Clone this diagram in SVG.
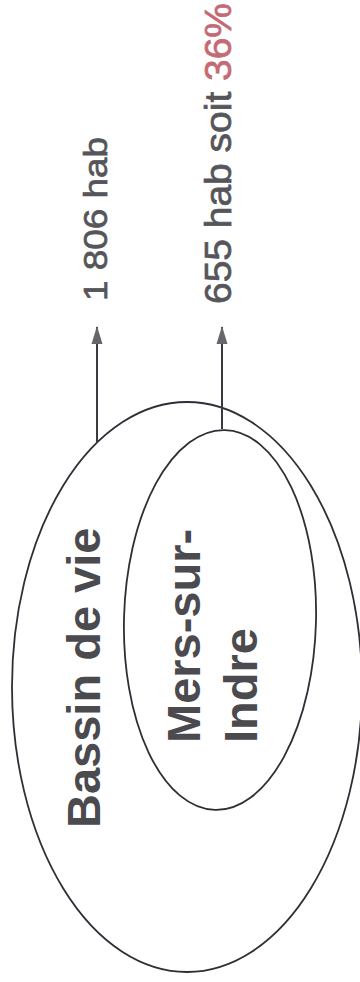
<svg xmlns="http://www.w3.org/2000/svg" width="360" height="982" viewBox="0 0 360 982">
<defs>
<style>
.ring{fill:none;stroke:#2e2e36;stroke-width:1.8}
.lbl{font-family:"Liberation Sans",Arial,sans-serif;fill:#55555a;stroke:#55555a;stroke-width:0.7}
.big{font-family:"Liberation Sans",Arial,sans-serif;font-weight:bold;fill:#4a4a4f}
.conn{stroke:#3a3a40;stroke-width:2;fill:none}
</style>
<marker id="ah" markerWidth="18" markerHeight="12" refX="17" refY="6" orient="auto" markerUnits="userSpaceOnUse" viewBox="0 0 18 12">
<path d="M0 0.5 L18 6 L0 11.5 Z" fill="#66666c"/>
</marker>
</defs>
<rect width="360" height="982" fill="#ffffff"/>
<g id="bassin">
<ellipse class="ring" cx="187" cy="687" rx="175" ry="285" stroke="#55555c"/>
<text class="big" x="100" y="828" font-size="47" transform="rotate(-90 100 828)">Bassin de vie</text>
</g>
<g id="mers">
<ellipse class="ring" cx="220" cy="620" rx="96" ry="190" transform="rotate(1.5 220 620)"/>
<text class="big" x="200" y="743" font-size="47" transform="rotate(-90 200 743)">Mers-sur-</text>
<text class="big" x="257" y="743" font-size="47" transform="rotate(-90 257 743)">Indre</text>
</g>
<g id="label-bassin">
<text class="lbl" x="107" y="301" font-size="34" textLength="164" lengthAdjust="spacingAndGlyphs" transform="rotate(-90 107 301)">1 806 hab</text>
</g>
<g id="label-mers">
<text class="lbl" x="231" y="304" font-size="37" textLength="301" lengthAdjust="spacingAndGlyphs" transform="rotate(-90 231 304)">655 hab soit <tspan fill="#c46a74" stroke="#c46a74">36%</tspan></text>
</g>
<g id="connectors">
<line class="conn" x1="97" y1="443" x2="97" y2="327" marker-end="url(#ah)"/>
<line class="conn" x1="222" y1="429" x2="222" y2="327" marker-end="url(#ah)"/>
</g>
</svg>
